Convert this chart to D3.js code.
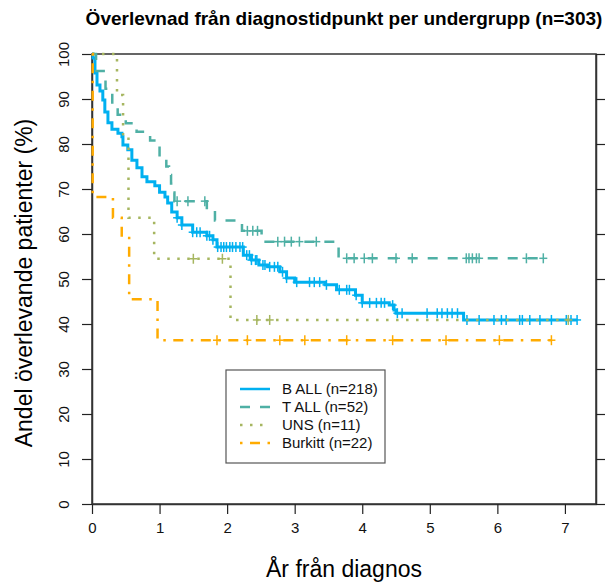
<!DOCTYPE html>
<html>
<head>
<meta charset="utf-8">
<script src="https://cdn.jsdelivr.net/npm/d3@7"></script>
<style>
  body { margin: 0; background: #fff; }
  svg { display: block; font-family: "Liberation Sans", Arial, sans-serif; }
</style>
</head>
<body>
<svg id="chart" width="605" height="583"></svg>
<script>
// gruppnamn och etiketter
var groups = ["B ALL (n=218)", "T ALL (n=52)", "UNS (n=11)", "Burkitt (n=22)"];
var xTicks = [0, 1, 2, 3, 4, 5, 6, 7];
var yTicks = [0, 10, 20, 30, 40, 50, 60, 70, 80, 90, 100];

// B ALL - tider (år) och andel efter varje steg (%)
var bTimes = [0, 0.015, 0.044, 0.074, 0.118, 0.16, 0.19, 0.236, 0.295, 0.384, 0.443, 0.458, 0.53, 0.59, 0.665, 0.74, 0.813, 0.93, 1.0, 1.08, 1.12, 1.18, 1.26, 1.33, 1.49, 1.70, 1.79, 1.85, 2.24, 2.36, 2.47, 2.6, 2.78, 2.88, 3.0, 3.45, 3.62, 3.9, 4.0, 4.4, 4.47, 4.5, 5.5];
var bSurv  = [100, 99.1, 95.8, 93.1, 91.8, 89.8, 87.1, 84.7, 83.3, 82.4, 81.6, 79.8, 78.7, 76.4, 74.7, 72.7, 71.6, 70.7, 69.3, 68.2, 66.9, 64.9, 63.6, 62.0, 60.4, 59.6, 58.7, 57.1, 55.3, 54.2, 53.1, 52.7, 51.6, 50.2, 49.3, 48.7, 47.6, 46.4, 44.7, 44.2, 43.1, 42.4, 40.9];
var bCensor = [1.26, 1.33, 1.49, 1.55, 1.6, 1.7, 1.74, 1.79, 1.86, 1.91, 1.95, 1.99, 2.04, 2.08, 2.13, 2.19, 2.23, 2.29, 2.36, 2.42, 2.56, 2.63, 2.7,
  2.33, 2.44, 2.53, 2.75, 2.82, 2.88, 3.03, 3.22, 3.29, 3.37, 3.47, 3.66, 3.77, 3.81, 3.91, 4.0, 4.11, 4.21, 4.28, 4.33, 4.45, 4.52, 4.59,
  4.96, 5.11, 5.18, 5.26, 5.33, 5.41, 5.55, 5.73, 5.95, 6.06, 6.13, 6.33, 6.37, 6.48, 6.63, 6.8, 7.02, 7.09, 7.18];

// T ALL
var tTimes = [0, 0.06, 0.2, 0.3, 0.38, 0.5, 0.66, 0.86, 1.0, 1.1, 1.14, 1.17, 1.2, 1.22, 1.7, 1.82, 2.22, 2.51, 3.65];
var tSurv  = [100, 96.2, 92.3, 88.5, 86.5, 84.6, 82.7, 80.8, 76.9, 75.0, 73.1, 71.2, 69.2, 67.3, 65.3, 63.0, 60.7, 58.3, 54.6];
var tCensor = [1.26, 1.42, 1.67, 2.3, 2.38, 2.45, 2.75, 2.85, 2.95, 3.07, 3.32, 3.77, 3.88, 4.03, 4.15, 4.5, 4.74, 5.54, 5.58, 5.63, 5.69, 5.73, 6.43, 6.68];

// UNS
var uTimes = [0, 0.37, 0.46, 0.54, 0.92, 2.05];
var uSurv  = [100, 90.9, 81.8, 63.6, 54.5, 40.9];
var uCensor = [1.5, 1.93, 2.44, 2.63, 7.05];

// Burkitt
var kTimes = [0, 0.01, 0.31, 0.44, 0.55, 0.97];
var kSurv  = [100, 68.2, 63.6, 59.1, 45.5, 36.4];
var kCensor = [1.85, 2.3, 2.78, 3.15, 3.77, 4.45, 5.24, 6.03, 6.8];

var colors = ["#00b0f0", "#4fb0a5", "#a6b660", "#ffab00"];
var dashes = ["none", "10,10", "2.5,7.5", "2.5,7.5,10,7.5"];
var widths = [3, 2.5, 2.5, 2.5];

var svg = d3.select("#chart"),
    margin = {top: 54, left: 92, bottom: 79, right: 9},
    width = +svg.attr("width"),
    height = +svg.attr("height");

var x = d3.scaleLinear()
    .domain([0, 7.46])
    .range([margin.left, width - margin.right]);

var y = d3.scaleLinear()
    .domain([0, 100])
    .range([height - margin.bottom, margin.top]);

// ram
svg.append("rect")
    .attr("x", x(0)).attr("y", y(100))
    .attr("width", x(7.46) - x(0)).attr("height", y(0) - y(100))
    .attr("fill", "none").attr("stroke", "#333").attr("stroke-width", 1.5);

var xAxis = svg.append("g")
    .attr("transform", `translate(0,${y(0)})`)
    .call(d3.axisBottom(x).tickValues(xTicks).tickSize(10).tickSizeOuter(0).tickPadding(8));

var yAxis = svg.append("g")
    .attr("transform", `translate(${x(0)},0)`)
    .call(d3.axisLeft(y).tickValues(yTicks).tickSize(10).tickSizeOuter(0));

yAxis.selectAll("text")
    .attr("transform", "rotate(-90)")
    .attr("x", 0)
    .attr("y", -23)
    .attr("dy", 0)
    .style("text-anchor", "middle");

var rAxis = svg.append("g")
    .attr("transform", `translate(${x(7.46)},0)`)
    .call(d3.axisRight(y).tickValues(yTicks).tickSize(9).tickSizeOuter(0).tickFormat(""));

svg.selectAll(".domain").attr("stroke", "#333").attr("stroke-width", 1.5);
svg.selectAll(".tick line").attr("stroke", "#222").attr("stroke-width", 1.2);
svg.selectAll(".tick text").attr("font-size", 15).attr("fill", "#111")
    .attr("font-family", "Liberation Sans, Arial, sans-serif");

// titlar
svg.append("text")
    .attr("x", (x(0) + x(7.46)) / 2).attr("y", 25)
    .attr("text-anchor", "middle")
    .attr("font-size", 19).attr("font-weight", "bold")
    .text("Överlevnad från diagnostidpunkt per undergrupp (n=303)");

svg.append("text")
    .attr("x", (x(0) + x(7.46)) / 2).attr("y", 577)
    .attr("text-anchor", "middle")
    .attr("font-size", 23)
    .text("År från diagnos");

svg.append("text")
    .attr("transform", `translate(32,283) rotate(-90)`)
    .attr("text-anchor", "middle")
    .attr("font-size", 23)
    .text("Andel överlevande patienter (%)");

//-----------------------------------------------------------------------------
function stepValue(times, surv, t) {
    var i = d3.bisectRight(times, t) - 1;
    return surv[Math.max(0, i)];
}

var line = d3.line()
    .x(d => x(d[0]))
    .y(d => y(d[1]))
    .curve(d3.curveStepAfter);

var series = [
    [bTimes, bSurv, bCensor],
    [tTimes, tSurv, tCensor],
    [uTimes, uSurv, uCensor],
    [kTimes, kSurv, kCensor]
];

series.forEach(function(s, gi) {
    var times = s[0], surv = s[1], cens = s[2];
    var pts = times.map((t, i) => [t, surv[i]]);
    pts.push([d3.max(cens), surv[surv.length - 1]]);

    svg.append("path")
        .datum(pts)
        .attr("fill", "none")
        .attr("stroke", colors[gi])
        .attr("stroke-width", widths[gi])
        .attr("stroke-dasharray", dashes[gi])
        .attr("d", line);

    var marks = svg.append("g").attr("stroke", colors[gi]).attr("stroke-width", 1.5);
    cens.forEach(function(t) {
        var cx = x(t), cy = y(stepValue(times, surv, t));
        marks.append("line").attr("x1", cx).attr("x2", cx).attr("y1", cy - 5).attr("y2", cy + 5);
        marks.append("line").attr("x1", cx - 4).attr("x2", cx + 4).attr("y1", cy).attr("y2", cy);
    });
});

// legend
var legend = svg.append("g");
legend.append("rect")
    .attr("x", 226).attr("y", 370).attr("width", 159).attr("height", 93)
    .attr("fill", "#fff").attr("stroke", "#555").attr("stroke-width", 1.2);

groups.forEach(function(g, i) {
    var ly = 389 + i * 18;
    legend.append("line")
        .attr("x1", 240).attr("x2", 270).attr("y1", ly).attr("y2", ly)
        .attr("stroke", colors[i]).attr("stroke-width", 2.5)
        .attr("stroke-dasharray", dashes[i]);
    legend.append("text")
        .attr("x", 282).attr("y", ly).attr("dy", "0.35em")
        .attr("font-size", 15).attr("fill", "#111")
        .text(g);
});
</script>
</body>
</html>
